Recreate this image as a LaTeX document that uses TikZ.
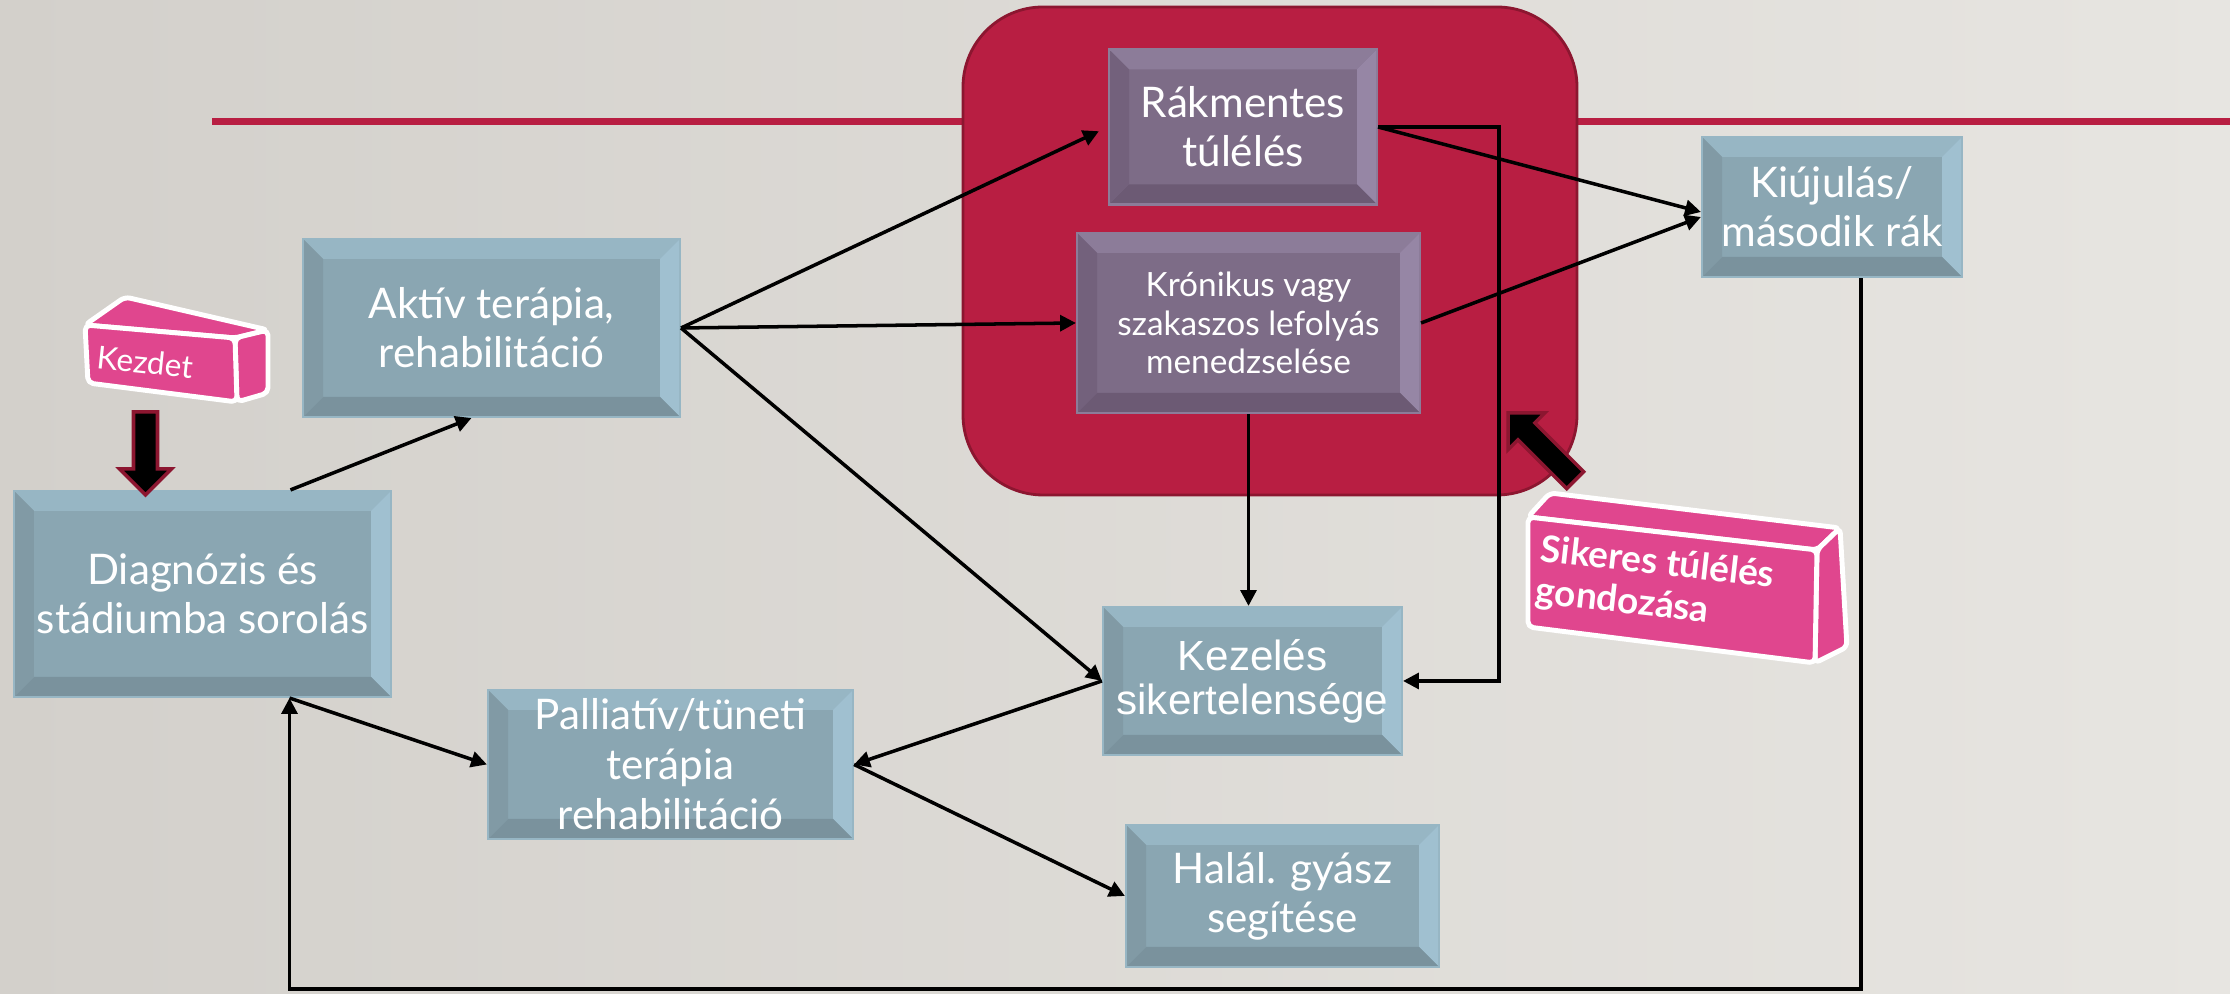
\documentclass[tikz,border=0pt]{standalone}
\usepackage{fontspec}
\setmainfont{Lato}
\newfontfamily\arialfont{Liberation Sans}
\usetikzlibrary{arrows.meta, positioning}

\definecolor{bgleft}{RGB}{211,208,203}
\definecolor{bgright}{RGB}{231,229,225}
\definecolor{wine}{RGB}{184,30,66}
\definecolor{winedark}{RGB}{140,22,48}
\definecolor{steel}{RGB}{138,166,178}
\definecolor{steellight}{RGB}{160,192,208}
\definecolor{steeldark}{RGB}{122,146,157}
\definecolor{mauve}{RGB}{125,108,135}
\definecolor{mauvelight}{RGB}{150,134,165}
\definecolor{mauvedark}{RGB}{108,90,116}
\definecolor{blockpink}{RGB}{224,70,142}

\tikzset{
  bevel/.style n args={3}{fill=#1, draw=#2!60!#1, line width=0.6pt,
    path picture={
      \fill[#2!60!#1] (path picture bounding box.north west) -- (path picture bounding box.north east)
        -- ++(-0.2,-0.2) -- ([shift={(0.2,-0.2)}]path picture bounding box.north west) -- cycle;
      \fill[#2] (path picture bounding box.north east) -- (path picture bounding box.south east)
        -- ++(-0.2,0.2) -- ([shift={(-0.2,-0.2)}]path picture bounding box.north east) -- cycle;
      \fill[#3] (path picture bounding box.south east) -- (path picture bounding box.south west)
        -- ++(0.2,0.2) -- ([shift={(-0.2,0.2)}]path picture bounding box.south east) -- cycle;
      \fill[#3!60!#1] (path picture bounding box.south west) -- (path picture bounding box.north west)
        -- ++(0.2,-0.2) -- ([shift={(0.2,0.2)}]path picture bounding box.south west) -- cycle;
    }},
  bluebox/.style={bevel={steel}{steellight}{steeldark}, text=white, align=center,
    inner sep=0pt, font=\fontsize{12}{14}\selectfont},
  purplebox/.style={bevel={mauve}{mauvelight}{mauvedark}, text=white, align=center,
    inner sep=0pt, font=\fontsize{12}{14}\selectfont},
  blockface/.style={fill=blockpink, draw=white, line width=1.4pt, line join=round, rounded corners=1.5pt},
  fatarrow/.style={fill=black, draw=winedark, line width=1pt, line join=miter}
}

% tip, angle, length
\newcommand{\fatarrow}[3]{%
  \filldraw[fatarrow, shift={#1}, rotate=#2] (0,0) -- (0.26,0.26) -- (0.26,0.12)
    -- (#3,0.12) -- (#3,-0.12) -- (0.26,-0.12) -- (0.26,-0.26) -- cycle;}

\begin{document}
\begin{tikzpicture}[>={Triangle[length=4.5pt,width=4.5pt]}, line width=1pt]
  % Background
  \shade[left color=bgleft, right color=bgright] (0,0) rectangle (22.3,9.94);
  \fill[wine] (2.12,8.685) rectangle (22.3,8.755);
  \draw[wine, fill=wine, draw=winedark, line width=0.8pt, rounded corners=0.8cm]
    (9.63,4.99) rectangle (15.77,9.87);

  % Nodes
  \node[bluebox, minimum width=3.77cm, minimum height=2.06cm] (diag) at (2.025,4.00)
    {Diagnózis és\\stádiumba sorolás};
  \node[bluebox, minimum width=3.77cm, minimum height=1.78cm] (aktiv) at (4.915,6.66)
    {Aktív terápia,\\rehabilitáció};
  \node[purplebox, minimum width=2.68cm, minimum height=1.55cm] (rakm) at (12.43,8.67)
    {Rákmentes\\túlélés};
  \node[purplebox, minimum width=3.43cm, minimum height=1.80cm,
    font=\fontsize{9.5}{10.9}\selectfont] (kron) at (12.485,6.71)
    {Krónikus vagy\\szakaszos lefolyás\\menedzselése};
  \node[bluebox, minimum width=2.60cm, minimum height=1.40cm] (kiuj) at (18.32,7.87)
    {Kiújulás/\\második rák};
  \node[bluebox, minimum width=2.99cm, minimum height=1.48cm,
    font=\arialfont\fontsize{12}{12.5}\selectfont] (kezel) at (12.525,3.13)
    {Kezelés\\sikertelensége};
  \node[bluebox, minimum width=3.65cm, minimum height=1.49cm,
    font=\fontsize{12}{14.2}\selectfont] (pall) at (6.705,2.295)
    {Palliatív/tüneti\\terápia\\rehabilitáció};
  \node[bluebox, minimum width=3.13cm, minimum height=1.42cm] (halal) at (12.825,0.98)
    {Halál. gyász\\segítése};

  % Edges
  \draw[->] ([xshift=0.88cm]diag.north) -- ([xshift=-0.2cm]aktiv.south);
  \draw[->, shorten >=0.1cm] (aktiv.east) -- (rakm.west);
  \draw[->] (aktiv.east) -- (kron.west);
  \draw[->] (aktiv.east) -- (kezel.west);
  \draw[->] (rakm.east) -- ([yshift=-0.05cm]kiuj.west);
  \draw[->] (kron.east) -- ([yshift=-0.1cm]kiuj.west);
  \draw[->] (rakm.east) -- ++(1.21,0) |- (kezel.east);
  \draw[->] (kron.south) -- (kron.south |- kezel.north);
  \draw[->] (kezel.west) -- (pall.east);
  \draw[->] (pall.east) -- (halal.west);
  \draw[->] ([xshift=0.87cm]diag.south) -- (pall.west);
  \draw[->] ([xshift=0.29cm]kiuj.south) -- ++(0,-7.11) -| ([xshift=0.87cm]diag.south);

  % Kezdet block
  \draw[blockface] (0.85,6.69) -- (1.25,6.97) -- (2.68,6.64) -- (2.35,6.56) -- cycle;
  \draw[blockface] (2.35,6.56) -- (2.68,6.64) -- (2.68,6.01) -- (2.37,5.92) -- cycle;
  \draw[blockface] (0.85,6.69) -- (2.35,6.56) -- (2.37,5.92) -- (0.88,6.11) -- cycle;
  \node[text=white, rotate=-6, font=\fontsize{9}{10}\selectfont] (kezdet) at (1.45,6.32) {Kezdet};
  \fatarrow{(1.455,4.99)}{90}{0.83}

  % Sikeres block
  \draw[blockface] (15.28,4.77) -- (15.50,5.01) -- (18.40,4.66) -- (18.17,4.44) -- cycle;
  \draw[blockface] (18.17,4.44) -- (18.40,4.66) -- (18.47,3.47) -- (18.15,3.31) -- cycle;
  \draw[blockface] (15.28,4.77) -- (18.17,4.44) -- (18.15,3.31) -- (15.28,3.67) -- cycle;
  \node[text=white, rotate=-6.5, align=left, font=\bfseries\fontsize{10.5}{12}\selectfont]
    (sikeres) at (16.55,4.09) {Sikeres túlélés\\gondozása};
  \fatarrow{(15.08,5.81)}{-45}{0.95}
\end{tikzpicture}
\end{document}
